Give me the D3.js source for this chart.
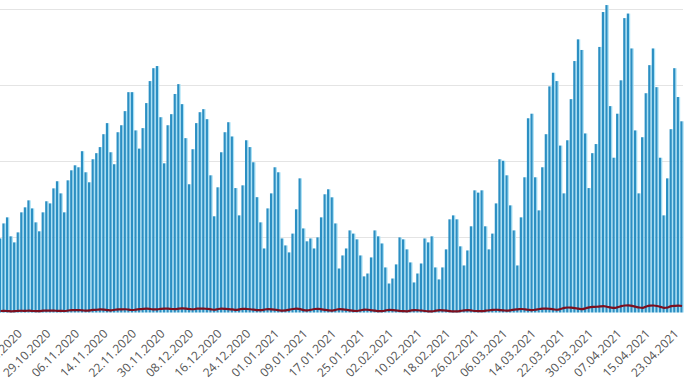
<!DOCTYPE html>
<html>
<head>
<meta charset="utf-8">
<script src="https://cdn.jsdelivr.net/npm/d3@7"></script>
<style>
  html, body { margin: 0; padding: 0; background: #ffffff; }
  svg { display: block; }
</style>
</head>
<body>
<svg id="chart" width="690" height="392"></svg>
<script>
// ---- data ----
const startDate = "2020-10-15";   // first category (daily)
const cases = [
  4880, 5870, 6270, 5020, 4620, 5280, 6600, 6930, 7390, 6860, 5940, 5350, 6600, 7330, 7190, 8180, 8650,
  7850, 6600, 8710, 9370, 9700, 9570, 10630, 9240, 8580, 10100, 10500, 10900, 11750, 12480, 10560, 9770,
  11880, 12340, 13270, 14520, 14520, 12000, 10800, 12150, 13800, 15250, 16100, 16240, 12870, 9830,
  12340, 13070, 14400, 15050, 13730, 11490, 8450, 10760, 12480, 13200, 13400, 12740, 9040, 6340,
  8250, 10560, 11880, 12540, 11600, 8200, 6400, 8380, 11350, 10900, 9900, 7600, 5940, 4220, 6860, 7850,
  9570, 9240, 4880, 4420, 3960, 5200, 6800, 8840, 5540, 4690, 4880, 4220, 4950, 6270, 7790, 8120,
  7590, 5870, 2900, 3760, 4220, 5410, 5200, 4820, 3760, 2380, 2570, 3630, 5410, 5020, 4550, 2970,
  1910, 2240, 3170, 4950, 4820, 4160, 3300, 1980, 2570, 3230, 4880, 4620, 5020, 2970, 2180, 2970,
  4160, 6140, 6400, 6140, 4360, 3100, 4090, 5680, 8050, 7900, 8050, 5680, 4160, 5200, 7190, 10100,
  10000, 9040, 7060, 5410, 3100, 6270, 8910, 12800, 13100, 8910, 6730, 9570, 11750, 14900, 15800,
  15250, 11000, 7850, 11350, 14060, 16570, 18000, 17300, 11800, 8200, 10500, 11100, 17500, 19800,
  20260, 13600, 10200, 13100, 15300, 19400, 19700, 17400, 12000, 7850, 11550, 14450, 16300, 17400,
  14850, 10200, 6400, 8840, 12080, 16100, 14200, 12600
];
const deaths = [
  100, 105, 95, 80, 85, 110, 115, 110, 118, 100, 90, 95, 120, 125, 130, 122, 110,
  105, 100, 130, 150, 155, 160, 140, 120, 135, 170, 180, 200, 190, 160, 140, 180, 200, 210, 215, 185, 165,
  190, 220, 240, 250, 230, 200, 210, 245, 260,
  250, 230, 220, 260, 270, 255, 230, 215, 250, 260, 250, 240, 210, 180, 230, 250, 240, 225, 200, 170, 210,
  240, 230, 215, 190, 160, 150, 200, 220, 210, 180,
  150, 130, 140, 190, 230, 250, 220, 160, 140, 180, 230, 240, 210, 170, 140, 130, 180, 220, 210, 180, 140,
  110, 100, 150, 190, 180, 150, 120, 95, 90, 140,
  170, 160, 130, 100, 85, 80, 130, 160, 150, 130, 100, 80, 75, 120, 150, 140, 120, 95, 80, 75, 110,
  140, 150, 130, 100, 90, 95, 120,
  150, 170, 180, 160, 140, 120, 150, 190, 210, 230, 210, 180, 160, 190, 230, 250, 260, 240, 210, 180, 230,
  300, 330, 320, 290, 250, 220, 280, 340, 370, 380,
  400, 420, 380, 330, 300, 350, 420, 460, 470, 440, 380, 330, 310, 400, 450, 460, 430, 370, 300, 330, 420,
  440, 450, 430
];
const tickLabels = [
  "21.10.2020", "29.10.2020", "06.11.2020", "14.11.2020", "22.11.2020", "30.11.2020",
  "08.12.2020", "16.12.2020", "24.12.2020", "01.01.2021", "09.01.2021", "17.01.2021",
  "25.01.2021", "02.02.2021", "10.02.2021", "18.02.2021", "26.02.2021", "06.03.2021",
  "14.03.2021", "22.03.2021", "30.03.2021", "07.04.2021", "15.04.2021", "23.04.2021"
];
const yTicks = [0, 5000, 10000, 15000, 20000];

// ---- categories ----
const parse = d3.timeParse("%Y-%m-%d");
const fmt = d3.timeFormat("%d.%m.%Y");
const d0 = parse(startDate);
const dates = d3.timeDay.range(d0, d3.timeDay.offset(d0, cases.length)).map(fmt);

// ---- layout ----
const svg = d3.select("#chart");
const x = d3.scaleBand().domain(dates).range([-1.28, 683.8]).paddingInner(0).paddingOuter(0);
const y = d3.scaleLinear().domain([0, 20000]).range([312.5, 9]);
const bw = x.bandwidth();

// grid
svg.append("g").selectAll("line").data(yTicks.filter(t => t > 0)).join("line")
  .attr("x1", 0).attr("x2", 683)
  .attr("y1", d => Math.round(y(d)) + 0.5).attr("y2", d => Math.round(y(d)) + 0.5)
  .attr("stroke", "#e4e4e4").attr("stroke-width", 1.2);

// bars: light edge + dark body
const bars = svg.append("g");
bars.selectAll("rect.edge").data(cases).join("rect")
  .attr("class", "edge")
  .attr("x", (d, i) => x(dates[i]) + bw * 0.62)
  .attr("width", bw * 0.36)
  .attr("y", d => y(d))
  .attr("height", d => y(0) - y(d))
  .attr("fill", "#a9e2f6");
bars.selectAll("rect.body").data(cases).join("rect")
  .attr("class", "body")
  .attr("x", (d, i) => x(dates[i]) + bw * 0.02)
  .attr("width", bw * 0.62)
  .attr("y", d => y(d))
  .attr("height", d => y(0) - y(d))
  .attr("fill", "#2b8fc3");

// deaths line
const line = d3.line()
  .x((d, i) => x(dates[i]) + bw / 2)
  .y(d => y(d))
  .curve(d3.curveMonotoneX);
svg.append("path").datum(deaths)
  .attr("d", line)
  .attr("fill", "none")
  .attr("stroke", "#7d0f1e")
  .attr("stroke-width", 2.2)
  .attr("stroke-linejoin", "round");

// x axis labels
const tickDates = tickLabels;
const xAxis = d3.axisBottom(x).tickValues(tickDates).tickSize(0).tickPadding(0);
const gx = svg.append("g").attr("transform", `translate(0, ${y(0)})`).call(xAxis);
gx.select(".domain").remove();
gx.selectAll(".tick text")
  .attr("font-family", "'Open Sans', sans-serif")
  .attr("font-size", 12)
  .attr("fill", "#555")
  .attr("text-anchor", "end")
  .attr("dy", 0)
  .attr("transform", "translate(1, 22) rotate(-45)");
</script>
</body>
</html>
